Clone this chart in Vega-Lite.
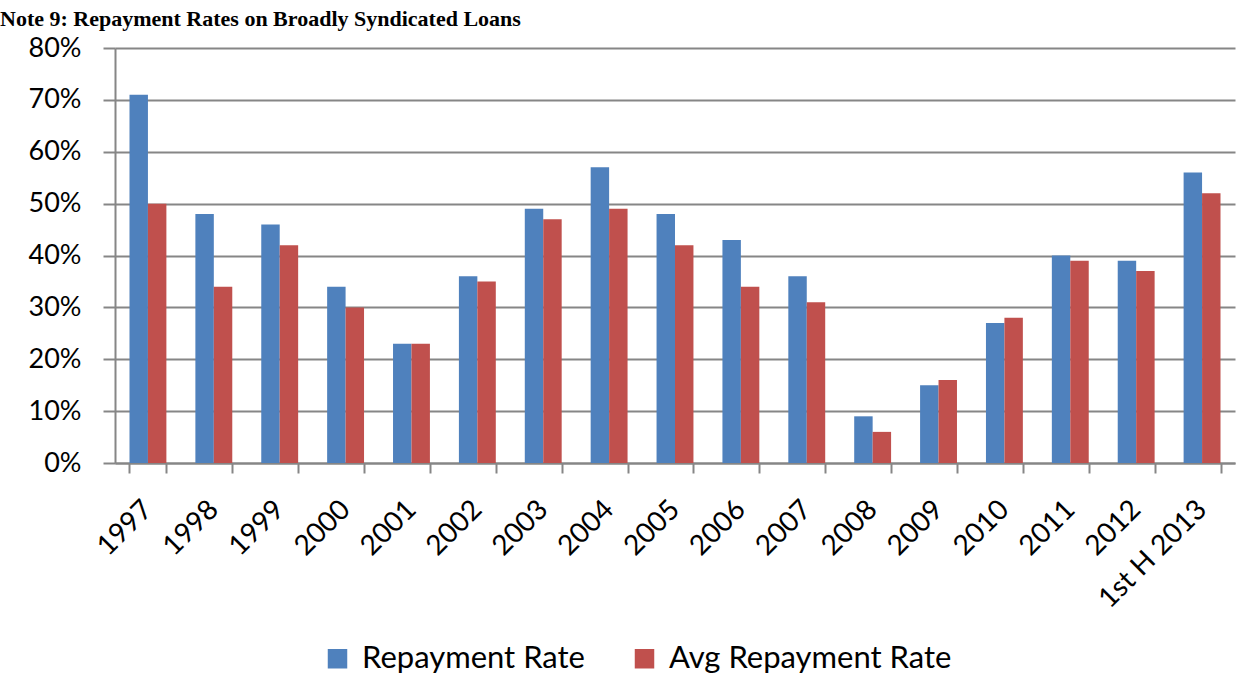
{
  "$schema": "https://vega.github.io/schema/vega-lite/v6.json",
  "autosize": {"type": "none"},
  "width": 1120,
  "height": 415,
  "padding": {"left": 115, "top": 48, "right": 9, "bottom": 226},
  "background": "white",
  "title": {
    "text": "Note 9:  Repayment Rates on Broadly Syndicated Loans",
    "anchor": "start",
    "frame": "group",
    "font": "Liberation Serif",
    "fontSize": 22,
    "fontWeight": "bold",
    "color": "black",
    "baseline": "alphabetic",
    "dx": -115,
    "dy": 14,
    "offset": 0
  },
  "data": {
    "values": [
      {"period": "1997", "series": "Repayment Rate", "rate": 0.71},
      {"period": "1997", "series": "Avg Repayment Rate", "rate": 0.50},
      {"period": "1998", "series": "Repayment Rate", "rate": 0.48},
      {"period": "1998", "series": "Avg Repayment Rate", "rate": 0.34},
      {"period": "1999", "series": "Repayment Rate", "rate": 0.46},
      {"period": "1999", "series": "Avg Repayment Rate", "rate": 0.42},
      {"period": "2000", "series": "Repayment Rate", "rate": 0.34},
      {"period": "2000", "series": "Avg Repayment Rate", "rate": 0.30},
      {"period": "2001", "series": "Repayment Rate", "rate": 0.23},
      {"period": "2001", "series": "Avg Repayment Rate", "rate": 0.23},
      {"period": "2002", "series": "Repayment Rate", "rate": 0.36},
      {"period": "2002", "series": "Avg Repayment Rate", "rate": 0.35},
      {"period": "2003", "series": "Repayment Rate", "rate": 0.49},
      {"period": "2003", "series": "Avg Repayment Rate", "rate": 0.47},
      {"period": "2004", "series": "Repayment Rate", "rate": 0.57},
      {"period": "2004", "series": "Avg Repayment Rate", "rate": 0.49},
      {"period": "2005", "series": "Repayment Rate", "rate": 0.48},
      {"period": "2005", "series": "Avg Repayment Rate", "rate": 0.42},
      {"period": "2006", "series": "Repayment Rate", "rate": 0.43},
      {"period": "2006", "series": "Avg Repayment Rate", "rate": 0.34},
      {"period": "2007", "series": "Repayment Rate", "rate": 0.36},
      {"period": "2007", "series": "Avg Repayment Rate", "rate": 0.31},
      {"period": "2008", "series": "Repayment Rate", "rate": 0.09},
      {"period": "2008", "series": "Avg Repayment Rate", "rate": 0.06},
      {"period": "2009", "series": "Repayment Rate", "rate": 0.15},
      {"period": "2009", "series": "Avg Repayment Rate", "rate": 0.16},
      {"period": "2010", "series": "Repayment Rate", "rate": 0.27},
      {"period": "2010", "series": "Avg Repayment Rate", "rate": 0.28},
      {"period": "2011", "series": "Repayment Rate", "rate": 0.40},
      {"period": "2011", "series": "Avg Repayment Rate", "rate": 0.39},
      {"period": "2012", "series": "Repayment Rate", "rate": 0.39},
      {"period": "2012", "series": "Avg Repayment Rate", "rate": 0.37},
      {"period": "1st H 2013", "series": "Repayment Rate", "rate": 0.56},
      {"period": "1st H 2013", "series": "Avg Repayment Rate", "rate": 0.52}
    ]
  },
  "mark": {"type": "bar", "stroke": null},
  "encoding": {
    "x": {
      "field": "period",
      "type": "nominal",
      "sort": null,
      "title": null,
      "scale": {"paddingInner": 0.44, "paddingOuter": 0.22},
      "axis": {
        "labelAngle": -45,
        "labelAlign": "right",
        "labelBaseline": "middle",
        "labelFont": "Lato",
        "labelFontSize": 28,
        "labelColor": "black",
        "labelPadding": 32,
        "labelLimit": 0,
        "tickBand": "extent",
        "tickSize": 10,
        "tickColor": "#868686",
        "tickWidth": 2,
        "domainColor": "#868686",
        "domainWidth": 2,
        "grid": false
      }
    },
    "xOffset": {
      "field": "series",
      "type": "nominal",
      "sort": ["Repayment Rate", "Avg Repayment Rate"]
    },
    "y": {
      "field": "rate",
      "type": "quantitative",
      "title": null,
      "scale": {"domain": [0, 0.8], "nice": false},
      "axis": {
        "format": ".0%",
        "values": [0, 0.1, 0.2, 0.3, 0.4, 0.5, 0.6, 0.7, 0.8],
        "labelFont": "Lato",
        "labelFontSize": 27,
        "labelColor": "black",
        "labelPadding": 22,
        "tickSize": 12,
        "tickColor": "#868686",
        "tickWidth": 2,
        "domainColor": "#868686",
        "domainWidth": 2,
        "gridColor": "#868686",
        "gridWidth": 2
      }
    },
    "color": {
      "field": "series",
      "type": "nominal",
      "scale": {
        "domain": ["Repayment Rate", "Avg Repayment Rate"],
        "range": ["#4F81BD", "#C0504D"]
      },
      "legend": {
        "title": null,
        "orient": "none",
        "legendX": 207,
        "legendY": 595,
        "padding": 0,
        "direction": "horizontal",
        "symbolType": "square",
        "symbolSize": 380,
        "symbolStrokeWidth": 0,
        "labelFont": "Lato",
        "labelFontSize": 31,
        "labelColor": "black",
        "labelOffset": 9,
        "labelLimit": 0,
        "columnPadding": 44
      }
    }
  },
  "config": {
    "view": {"stroke": null}
  }
}
